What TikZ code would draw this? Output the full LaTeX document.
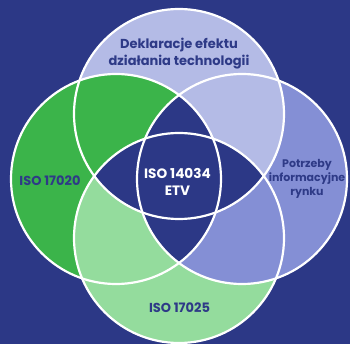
\documentclass[tikz,border=0pt]{standalone}
\usepackage{fontspec}
\setmainfont{Poppins}
\definecolor{navy}{RGB}{44,56,134}
\definecolor{lav}{RGB}{180,187,230}
\definecolor{purp}{RGB}{132,143,213}
\definecolor{dgreen}{RGB}{59,180,74}
\definecolor{lgreen}{RGB}{148,220,157}
\definecolor{txt}{RGB}{46,58,135}
\begin{document}
\begin{tikzpicture}[x=1pt,y=-1pt,
  lbl/.style={text=txt,align=center,inner sep=0pt},
  big/.style={font=\bfseries\fontsize{13}{17}\selectfont},
  mid/.style={font=\bfseries\fontsize{13.6}{17.5}\selectfont},
  small/.style={font=\bfseries\fontsize{11}{14}\selectfont},
  ring/.style={draw=white,line width=2.2pt}]
\def\R{105pt}
\useasboundingbox (0,0) rectangle (350,344);
\fill[navy] (0,0) rectangle (350,344);
\coordinate (T) at (179,114);
\coordinate (B) at (179,238);
\coordinate (L) at (116,179);
\coordinate (Q) at (242,179);
% base fills
\fill[purp] (Q) circle[radius=\R];
\fill[lgreen] (B) circle[radius=\R];
\fill[dgreen] (L) circle[radius=\R];
\fill[lav] (T) circle[radius=\R];
% fix overlaps
\begin{scope}\clip (T) circle[radius=\R]; \fill[dgreen] (L) circle[radius=\R];\end{scope}
\begin{scope}\clip (B) circle[radius=\R]; \fill[purp] (Q) circle[radius=\R];\end{scope}
\begin{scope}\clip (L) circle[radius=\R]; \fill[lgreen] (B) circle[radius=\R];\end{scope}
% central navy
\begin{scope}\clip (L) circle[radius=\R]; \fill[navy] (Q) circle[radius=\R];\end{scope}
\begin{scope}\clip (T) circle[radius=\R]; \fill[navy] (B) circle[radius=\R];\end{scope}
% outlines
\draw[ring] (T) circle[radius=\R];
\draw[ring] (B) circle[radius=\R];
\draw[ring] (L) circle[radius=\R];
\draw[ring] (Q) circle[radius=\R];
% labels
\node[lbl,big] (tl) at (179,54) {Deklaracje efektu\\działania technologii};
\node[lbl,big] (ll) at (50,181) {ISO 17020};
\node[lbl,mid,text=white] (cl) at (177.5,182) {ISO 14034\\ETV};
\node[lbl,small] (rl) at (307,179) {Potrzeby\\informacyjne\\rynku};
\node[lbl,big] (bl) at (179.5,308) {ISO 17025};
\end{tikzpicture}
\end{document}
